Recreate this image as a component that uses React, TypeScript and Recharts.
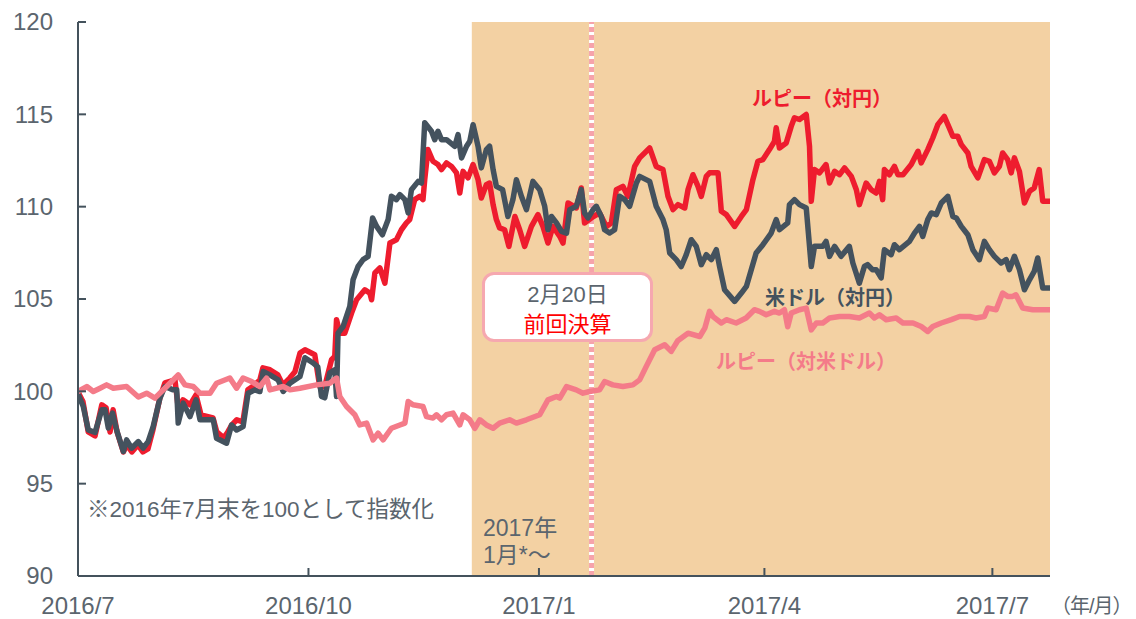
import { LineChart, Line, XAxis, YAxis, ReferenceArea, ReferenceLine } from "recharts"

// x is counted in days from 2016/7 (start of the chart)
const xTickDays = [0, 92, 184, 274, 365]
const xTickLabels = ["2016/7", "2016/10", "2017/1", "2017/4", "2017/7"]
const yTicks = [90, 95, 100, 105, 110, 115, 120]

const shadeStartDay = 157.2
const lastDay = 388
const settlementDay = 205

// 米ドル（対円）
const usdDays = [
  0, 2.1, 4.1, 6.8, 9.5, 10.8, 12.1, 13.8, 15.4, 18.1, 19.4, 21.4, 24.1, 26, 28, 30, 32.7, 34.7, 38, 39.4,
  40, 42, 44.7, 47.1, 48.7, 54, 55.3, 59.3, 61.3, 63.3, 65.9, 67.9, 70.6, 72.6, 73.9, 76.6, 79.9, 81.9, 84.6, 88.6,
  90.6, 93.7, 95.7, 97.2, 98.5, 100.5, 102.5, 103.2, 103.8, 105.8, 108.5, 109.8, 111.8, 113.8, 115.8, 117.6, 119.2, 121.5, 123.8, 125.1,
  127.1, 128.5, 130.5, 131.8, 133.1, 135.8, 137.1, 138.4, 141.1, 142.4, 143.7, 145.1, 147.1, 150.4, 151.7, 153.1, 155.1, 156.4, 157.7, 159.7,
  161, 163, 164.3, 165.7, 167, 169.5, 171.6, 173.6, 175, 177, 179, 181.6, 184.3, 186.3, 187.6, 189, 191, 193, 195, 196.3,
  198.9, 200.9, 202.2, 203.6, 205.6, 206.9, 208.9, 210.2, 212.2, 214.2, 216.2, 218.2, 220.2, 222.9, 224.2, 228.2, 230.8, 233.5, 234.8, 236.2,
  238.8, 240.8, 242.8, 244.8, 246.8, 248.8, 250.8, 252.8, 254.8, 256.1, 258.1, 262.1, 264.8, 266.8, 270.7, 273.4, 276.7, 278.7, 280, 283.3,
  284, 286, 288, 290.7, 292.7, 294, 297.3, 298.6, 300, 302, 304.6, 307.9, 309.3, 311.9, 313.9, 315.2, 317.1, 318.6, 320.6, 321.9,
  324.6, 325.9, 327.9, 331.9, 333.9, 335.9, 337.2, 339.2, 340.6, 342.6, 344.6, 347.2, 349.2, 350.6, 352.6, 355.2, 357.2, 359.8, 361.8, 363.8,
  365.8, 368.5, 370.5, 371.8, 373.8, 375.8, 377.8, 379.8, 381.7, 383.1, 385.1, 388,
]
const usdValues = [
  99.86, 99.18, 97.91, 97.77, 99.0, 99.0, 98.01, 98.82, 97.91, 96.74, 97.37, 96.92, 97.28, 96.92, 97.28, 98.09, 99.63, 100.26, 100.08, 100.08,
  98.28, 99.36, 98.63, 99.54, 98.46, 98.46, 97.46, 97.19, 98.18, 97.91, 98.09, 99.9, 100.08, 99.99, 101.07, 100.89, 100.62, 99.99, 100.44, 100.8,
  101.82, 101.55, 101.33, 99.72, 99.65, 101.0, 101.17, 99.72, 103.15, 103.51, 104.6, 106.04, 106.76, 107.13, 107.31, 109.39, 108.93, 108.48, 109.3, 110.56,
  110.38, 110.65, 110.38, 109.66, 110.92, 111.37, 111.28, 114.54, 114.08, 113.63, 114.08, 113.63, 113.63, 113.27, 113.9, 112.64, 113.27, 113.54, 114.44, 113.27,
  112.1, 113.09, 113.27, 112.01, 111.1, 110.92, 109.47, 110.38, 111.46, 110.56, 109.84, 111.37, 110.92, 110.02, 108.75, 109.47, 109.12, 108.66, 108.57, 109.84,
  110.02, 110.92, 109.66, 109.39, 109.84, 110.02, 109.47, 108.75, 108.57, 108.75, 110.56, 110.38, 110.02, 111.28, 111.64, 111.37, 110.02, 109.3, 108.75, 107.49,
  107.13, 106.76, 107.4, 108.21, 107.85, 106.86, 107.4, 107.13, 107.67, 106.76, 105.5, 104.87, 105.32, 105.68, 107.49, 107.94, 108.57, 109.3, 108.75, 109.12,
  110.11, 110.38, 110.11, 109.93, 106.76, 107.85, 107.85, 108.12, 107.31, 107.85, 107.31, 107.85, 106.95, 105.86, 106.76, 106.86, 106.59, 106.59, 106.14, 107.67,
  107.4, 107.94, 107.67, 108.12, 108.57, 108.93, 108.39, 109.3, 109.66, 109.57, 110.2, 110.56, 109.47, 109.39, 108.93, 108.48, 107.67, 107.13, 108.12, 107.67,
  107.31, 106.95, 107.13, 106.59, 107.31, 106.59, 105.5, 106.04, 106.49, 107.22, 105.59, 105.59,
]

// ルピー（対円）
const inrJpyDays = [
  0, 2, 4.1, 6.8, 9.5, 11.2, 12.8, 14, 15.6, 18.1, 19.5, 21.5, 23.9, 25.9, 27.9, 29.9, 32.7, 34.7, 38.7, 40,
  41.9, 44.7, 47.1, 49.1, 53.9, 55.4, 58.2, 59.8, 61.4, 63.4, 65.8, 67.8, 70.6, 72.6, 73.8, 76.6, 79.8, 81.8, 84.6, 86.6,
  88.6, 90.6, 94.5, 96.5, 98.5, 101.2, 102.5, 103.2, 104.5, 106.5, 109.2, 111.2, 114.5, 116.5, 117.2, 118.5, 120.5, 122.5, 124.5, 127.1,
  129.1, 131.1, 132.4, 134.4, 136.4, 137.7, 138.4, 139.7, 141.7, 143.7, 145.1, 147.1, 149.1, 151.1, 152.4, 153.7, 155.7, 157.7, 159.7, 161,
  163, 164.3, 165.7, 167, 168.3, 170.3, 172, 174.4, 176.3, 178.3, 181, 183.6, 185.6, 187.6, 189.6, 192.3, 193.6, 195.6, 198.9, 200.9,
  202.2, 204.9, 208.2, 210.9, 212.9, 214.9, 217.5, 219.5, 222.2, 224.2, 228.2, 230.8, 233.5, 235.5, 237.5, 239.5, 242.2, 243.5, 245.5, 247.5,
  248.8, 250.8, 252.1, 255.5, 256.8, 258.8, 262.1, 264.8, 266.8, 269.4, 271.4, 273.4, 276, 278, 278.7, 280, 282.7, 284.7, 286, 288,
  290.7, 292, 292.7, 294, 296, 298.6, 300, 302, 304, 306, 308.7, 310.7, 311.9, 314.6, 316.6, 318.6, 319.9, 321.2, 321.9, 323.9,
  325.9, 327.3, 329.3, 332.6, 335.3, 336.6, 339.2, 341.2, 343.2, 345.8, 347.8, 349.2, 351.2, 352.6, 355.2, 356.5, 359.2, 361.8, 363.8, 365.8,
  367.8, 369.1, 371.1, 372.5, 373.8, 375.8, 377.8, 379.8, 381.7, 383.7, 385.1, 388,
]
const inrJpyValues = [
  99.97, 99.43, 97.8, 97.59, 99.27, 99.11, 97.8, 99.0, 97.8, 96.72, 97.1, 96.72, 97.1, 96.72, 96.88, 97.91, 99.65, 100.46, 100.62, 99.11,
  99.54, 99.27, 99.81, 98.73, 98.56, 97.8, 97.48, 97.8, 98.18, 98.46, 98.35, 100.08, 100.35, 100.62, 101.27, 101.17, 100.89, 100.35, 100.73, 101.06,
  102.07, 102.25, 101.98, 100.26, 100.26, 101.71, 101.89, 103.88, 103.15, 103.15, 104.24, 104.96, 105.5, 105.32, 104.96, 106.41, 106.68, 105.86, 108.03, 108.21,
  108.75, 109.12, 109.3, 110.38, 110.56, 110.38, 111.46, 113.09, 112.46, 112.28, 112.01, 112.37, 112.18, 111.83, 110.74, 111.91, 111.56, 112.28, 111.46, 110.47,
  111.19, 111.28, 110.11, 109.3, 108.85, 108.75, 107.85, 109.47, 108.75, 107.85, 108.93, 109.57, 108.93, 108.03, 108.93, 108.39, 108.03, 110.2, 109.93, 111.01,
  109.12, 109.39, 109.66, 108.93, 109.12, 110.92, 111.1, 110.56, 112.18, 112.64, 113.18, 112.18, 112.01, 110.56, 109.84, 110.11, 109.93, 110.92, 111.73, 111.1,
  110.56, 111.64, 111.83, 111.83, 109.75, 109.57, 108.93, 109.47, 109.84, 111.46, 112.46, 112.55, 113.09, 113.54, 114.27, 113.18, 113.45, 114.35, 114.81, 114.72,
  114.99, 113.27, 110.29, 112.01, 111.83, 112.28, 111.28, 111.91, 111.73, 112.1, 111.64, 110.92, 110.11, 111.28, 110.92, 110.74, 111.37, 110.38, 112.01, 111.73,
  112.18, 111.73, 111.73, 112.28, 113.0, 112.37, 113.09, 113.72, 114.44, 114.89, 114.27, 113.81, 113.81, 113.36, 112.91, 112.18, 111.56, 112.55, 112.46, 111.83,
  112.18, 112.91, 112.55, 111.83, 112.64, 111.91, 110.2, 110.83, 111.01, 112.01, 110.29, 110.29,
]

// ルピー（対米ドル）
const inrUsdDays = [
  0, 3.5, 6.1, 8.8, 11.4, 14.1, 19.4, 24.1, 27.4, 30.7, 35.4, 40, 42.7, 46, 48.7, 52.7, 55.3, 60.6, 63.3, 65.9,
  69.3, 72.6, 75.3, 76.6, 81.9, 84.6, 88.6, 95.2, 100.5, 103.2, 104.5, 107.2, 110.5, 112.5, 115.2, 117.8, 119.8, 121.8, 125.1, 128.5,
  130.5, 131.8, 133.7, 137.7, 139.1, 141.7, 143.1, 145.1, 147.1, 149.7, 152.4, 153.7, 156.4, 158.4, 160.4, 163, 165.7, 168.3, 172.3, 175,
  179, 184.3, 187.6, 191, 192.3, 195, 198.9, 201.6, 204.2, 208.2, 210.2, 213.5, 217.5, 221.5, 224.2, 226.8, 230.2, 234.2, 236.8, 239.4,
  243.5, 248.2, 250.2, 252.1, 253.5, 256.8, 258.8, 262.7, 266.7, 270, 272, 274.7, 278, 280, 282, 283.3, 284.7, 288, 290.7, 292.7,
  294.7, 297.3, 300, 304, 307.9, 311.9, 315.9, 317.9, 319.9, 322.6, 326.6, 329.3, 333.3, 336.6, 339.2, 341.2, 344.6, 348.6, 351.9, 355.9,
  358.5, 361.8, 363.2, 366.5, 369.1, 371.1, 373.1, 374.4, 377.1, 381.1, 383.7, 388,
]
const inrUsdValues = [
  99.99, 100.26, 99.99, 100.17, 100.35, 100.17, 100.26, 99.69, 99.9, 99.63, 100.26, 100.89, 100.35, 100.26, 99.9, 99.9, 100.44, 100.72, 100.17, 100.72,
  100.53, 100.26, 100.72, 100.08, 100.26, 100.08, 100.17, 100.35, 100.44, 100.72, 99.72, 99.18, 98.73, 98.18, 98.28, 97.37, 97.73, 97.37, 98.0, 98.18,
  98.28, 99.45, 99.27, 99.18, 98.63, 98.55, 98.73, 98.46, 98.73, 98.82, 98.18, 98.73, 98.46, 98.0, 98.46, 98.18, 98.0, 98.28, 98.46, 98.28,
  98.46, 98.73, 99.54, 99.72, 99.63, 100.26, 100.08, 99.9, 99.99, 100.08, 100.53, 100.35, 100.26, 100.35, 100.62, 101.34, 102.25, 102.52, 102.16, 102.74,
  103.15, 102.97, 103.42, 104.33, 104.05, 103.7, 103.88, 103.7, 103.97, 104.42, 104.33, 104.15, 104.33, 104.24, 104.42, 103.5, 104.24, 104.42, 104.51, 103.33,
  103.7, 103.7, 103.97, 104.05, 104.05, 103.97, 104.24, 103.97, 104.15, 103.88, 103.97, 103.7, 103.7, 103.51, 103.24, 103.51, 103.7, 103.88, 104.05, 104.05,
  103.97, 104.05, 104.51, 104.42, 105.32, 105.14, 105.14, 105.23, 104.51, 104.42, 104.42, 104.42,
]

const toRows = (days: number[], values: number[]) => days.map((d, i) => ({ d, v: values[i] }))

const usdRows = toRows(usdDays, usdValues)
const inrJpyRows = toRows(inrJpyDays, inrJpyValues)
const inrUsdRows = toRows(inrUsdDays, inrUsdValues)

const FONT = "'Liberation Sans', Arial, 'Noto Sans CJK JP', sans-serif"
const AXIS = "#44525c"
const TEXT_GRAY = "#5b656e"
const RED = "#ee1c2e"
const SLATE = "#44525e"
const PINK = "#f47b89"

function YTick(props: any) {
  const { x, y, payload } = props
  return (
    <g>
      <line x1={x} x2={x + 8} y1={y} y2={y} stroke={AXIS} strokeWidth={2} />
      <text x={x - 25} y={y} dy="0.35em" textAnchor="end" fill={TEXT_GRAY} fontSize={24} fontFamily={FONT}>
        {payload.value}
      </text>
    </g>
  )
}

function XTick(props: any) {
  const { x, y, payload } = props
  const idx = xTickDays.indexOf(payload.value)
  return (
    <g>
      {idx > 0 && <line x1={x} x2={x} y1={y} y2={y - 8} stroke={AXIS} strokeWidth={2} />}
      <text x={x} y={y + 30} dy="0.35em" textAnchor="middle" fill={TEXT_GRAY} fontSize={24} fontFamily={FONT}>
        {xTickLabels[idx]}
      </text>
    </g>
  )
}

const label = (left: number, top: number, text: string, color: string, size: number, bold = false, spacing = 0) => (
  <div
    style={{
      position: "absolute",
      left,
      top,
      transform: "translateY(-50%)",
      color,
      fontSize: size,
      fontWeight: bold ? 700 : 400,
      fontFamily: FONT,
      lineHeight: 1,
      letterSpacing: spacing,
      whiteSpace: "nowrap",
    }}
  >
    {text}
  </div>
)

export default function App() {
  return (
    <div style={{ position: "absolute", left: 0, top: 0, width: 1136, height: 619, background: "#fff", overflow: "hidden" }}>
      <LineChart width={1136} height={619} margin={{ top: 22, right: 86, left: 0, bottom: 0 }}>
        <XAxis
          type="number"
          dataKey="d"
          domain={[0, lastDay]}
          ticks={xTickDays}
          allowDataOverflow
          height={43}
          stroke={AXIS}
          strokeWidth={2}
          tickLine={false}
          tickSize={0}
          tickMargin={0}
          tick={<XTick />}
          interval={0}
        />
        <YAxis
          type="number"
          domain={[90, 120]}
          ticks={yTicks}
          allowDataOverflow
          width={78}
          stroke={AXIS}
          strokeWidth={2}
          tickLine={false}
          tickSize={0}
          tickMargin={0}
          tick={<YTick />}
          interval={0}
        />
        <ReferenceArea x1={shadeStartDay} x2={lastDay} y1={90} y2={120} fill="#f3d1a3" fillOpacity={1} stroke="none" />
        <ReferenceLine x={settlementDay} stroke="#ffffff" strokeWidth={5} />
        <ReferenceLine x={settlementDay} stroke="#f6a3ab" strokeWidth={5} strokeDasharray="5 3" />
        <Line data={inrJpyRows} dataKey="v" type="linear" stroke={RED} strokeWidth={5.5} dot={false} strokeLinejoin="round" isAnimationActive={false} />
        <Line data={usdRows} dataKey="v" type="linear" stroke={SLATE} strokeWidth={5.5} dot={false} strokeLinejoin="round" isAnimationActive={false} />
        <Line data={inrUsdRows} dataKey="v" type="linear" stroke={PINK} strokeWidth={5.5} dot={false} strokeLinejoin="round" isAnimationActive={false} />
      </LineChart>

      <div
        style={{
          position: "absolute",
          left: 482,
          top: 272,
          width: 165,
          height: 64,
          border: "3px solid #f6a8b0",
          borderRadius: 12,
          background: "#fff",
          fontFamily: FONT,
          textAlign: "center",
        }}
      >
        <div style={{ position: "absolute", left: 0, right: 0, top: 20, transform: "translateY(-50%)", fontSize: 22, color: TEXT_GRAY, lineHeight: 1 }}>
          2月20日
        </div>
        <div style={{ position: "absolute", left: 0, right: 0, top: 50, transform: "translateY(-50%)", fontSize: 22, color: "#ff0000", lineHeight: 1 }}>
          前回決算
        </div>
      </div>

      {label(752, 99, "ルピー（対円）", RED, 20, true)}
      {label(765, 298, "米ドル（対円）", SLATE, 20, true)}
      {label(716, 362, "ルピー（対米ドル）", PINK, 20, true)}
      {label(87, 510, "※2016年7月末を100として指数化", TEXT_GRAY, 22.5)}
      {label(483, 528, "2017年", TEXT_GRAY, 23)}
      {label(483, 555, "1月*～", TEXT_GRAY, 23)}
      {label(1051, 606, "（年/月）", TEXT_GRAY, 20, false, -1)}
    </div>
  )
}
